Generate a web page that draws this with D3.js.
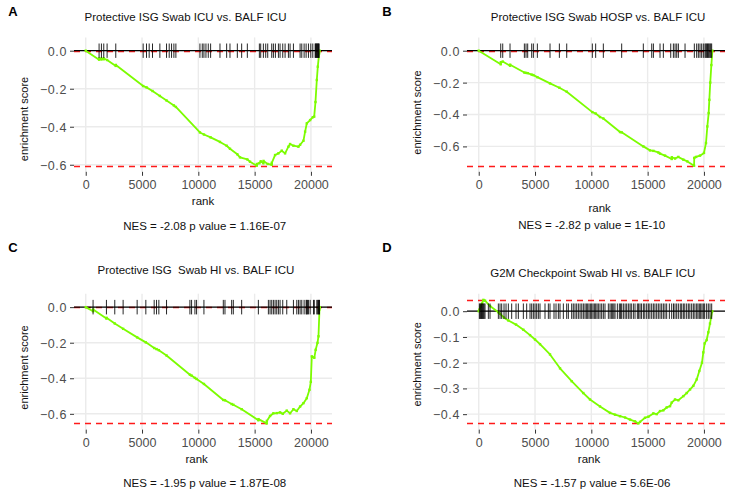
<!DOCTYPE html>
<html><head><meta charset="utf-8">
<script src="https://cdn.jsdelivr.net/npm/d3@7"></script>
<style>body{margin:0;background:#fff}svg text{font-family:"Liberation Sans",Arial,Helvetica,sans-serif;white-space:pre}</style>
</head><body>
<svg id="chart" width="729" height="492"></svg>
<script>
// ---------------- data ----------------
const xTicks = [0, 5000, 10000, 15000, 20000];
const nGenes = 20830;
const letters = ["A", "B", "C", "D"];
const titles = [
  "Protective ISG Swab ICU vs. BALF ICU",
  "Protective ISG Swab HOSP vs. BALF ICU",
  "Protective ISG  Swab HI vs. BALF ICU",
  "G2M Checkpoint Swab HI vs. BALF ICU"
];
const nesLabels = [
  "NES = -2.08 p value = 1.16E-07",
  "NES = -2.82 p value = 1E-10",
  "NES = -1.95 p value = 1.87E-08",
  "NES = -1.57 p value = 5.6E-06"
];
const yTicksA = [0, -0.2, -0.4, -0.6];
const yTicksB = [0, -0.2, -0.4, -0.6];
const yTicksC = [0, -0.2, -0.4, -0.6];
const yTicksD = [0, -0.1, -0.2, -0.3, -0.4];

const curveA = [[0,0],[1186,-0.047],[1194,-0.041],[1394,-0.046],[1400,-0.041],[1601,-0.045],[1610,-0.041],[1898,-0.049],[2669,-0.080],[2675,-0.075],
  [5101,-0.186],[5400,-0.193],[5931,-0.212],[6584,-0.238],[7177,-0.262],[7829,-0.288],[8007,-0.296],[10142,-0.430],[10500,-0.441],[11091,-0.456],
  [11922,-0.480],[12515,-0.500],[12811,-0.516],[13464,-0.545],[13700,-0.561],[14353,-0.572],[14591,-0.584],[15190,-0.605],[15200,-0.596],[15421,-0.592],
  [15540,-0.582],[15777,-0.592],[15790,-0.580],[16163,-0.596],[16518,-0.600],[16525,-0.590],[16815,-0.549],[17112,-0.540],[17411,-0.526],[17705,-0.540],
  [18001,-0.505],[18149,-0.491],[18446,-0.500],[18888,-0.505],[19039,-0.495],[19333,-0.474],[19484,-0.426],[19635,-0.382],[19929,-0.365],[20166,-0.350],
  [20290,-0.347],[20404,-0.270],[20522,-0.154],[20611,-0.084],[20730,-0.014],[20770,0]];
const hitsA = [1186,1394,1601,1898,2669,5101,5398,5635,5931,6584,7177,7414,7622,7829,8007,10142,10350,10498,10676,10884,11091,11922,12515,12811,13464,13849,14353,
  15421,15540,15777,15985,16163,16518,16667,16845,17112,17260,17497,17705,18001,18149,18446,19039,19187,19395,19573,19781,19988,20166,20374,20420,20463,
  20510,20552,20600,20641,20680,20730];

const curveB = [[0,0],[1954,-0.085],[1962,-0.072],[2131,-0.068],[2780,-0.094],[2790,-0.088],[4053,-0.137],[4201,-0.139],[4349,-0.141],[4704,-0.150],
  [4852,-0.153],[5207,-0.166],[6332,-0.205],[7161,-0.232],[7815,-0.257],[10089,-0.385],[10385,-0.394],[10773,-0.416],[11066,-0.425],[12549,-0.510],
  [12696,-0.512],[14618,-0.600],[15213,-0.625],[15512,-0.628],[15950,-0.638],[16101,-0.645],[16546,-0.658],[17141,-0.679],[17150,-0.668],[17436,-0.676],
  [17728,-0.666],[18172,-0.683],[18527,-0.694],[19125,-0.721],[19140,-0.672],[19300,-0.666],[19651,-0.658],[20006,-0.641],[20184,-0.579],[20302,-0.475],
  [20421,-0.391],[20481,-0.308],[20560,-0.200],[20660,-0.090],[20750,0]];
const hitsB = [1954,2131,2780,4053,4201,4349,4704,4852,5207,6332,7161,7815,10089,10385,11066,12696,14618,15364,15512,16101,16397,17052,17288,17436,17584,
  17732,18323,19148,19355,19503,19651,19799,19947,20095,20170,20243,20320,20391,20460,20539,20610,20687];

const curveC = [[0,0],[652,-0.023],[660,-0.013],[1838,-0.064],[1846,-0.060],[2580,-0.092],[3321,-0.122],[4567,-0.170],[5338,-0.198],[6079,-0.230],
  [6287,-0.236],[6494,-0.242],[7177,-0.272],[9253,-0.380],[9401,-0.385],[9698,-0.398],[9846,-0.404],[10498,-0.432],[12218,-0.522],[12367,-0.524],
  [12960,-0.545],[13108,-0.549],[13849,-0.574],[15332,-0.636],[15340,-0.630],[16074,-0.654],[16085,-0.640],[16370,-0.612],[16667,-0.597],[16963,-0.596],
  [17260,-0.592],[17497,-0.600],[17853,-0.582],[18149,-0.597],[18446,-0.574],[18743,-0.584],[19039,-0.559],[19336,-0.540],[19632,-0.512],[19870,-0.465],
  [19990,-0.420],[20077,-0.277],[20300,-0.285],[20420,-0.240],[20582,-0.201],[20671,-0.164],[20760,-0.013],[20790,0]];
const hitsC = [652,1838,2580,3321,4567,5338,6079,6287,6494,7177,9253,9401,9698,9846,10498,12218,12367,12960,13108,13849,15332,16222,16370,16518,16667,
  16815,16963,17112,17260,17497,17853,18446,18743,18891,19039,19187,19395,19573,19620,19692,19781,19929,20226,20300,20523,20600,20671,20720,20760];

const curveD = [[0,0],[56,0.006],[175,0.018],[293,0.030],[414,0.044],[559,0.041],[1003,0.020],[1743,-0.004],[1891,-0.010],[2246,-0.025],[2631,-0.036],
  [3312,-0.052],[3963,-0.072],[4555,-0.093],[4999,-0.110],[5443,-0.128],[6331,-0.168],[7220,-0.222],[8255,-0.272],[9291,-0.318],[9884,-0.343],
  [10771,-0.370],[11660,-0.395],[12104,-0.402],[12549,-0.408],[12996,-0.413],[13437,-0.421],[13880,-0.428],[14174,-0.436],[14324,-0.430],[14769,-0.414],
  [15064,-0.410],[15506,-0.397],[15804,-0.400],[16101,-0.388],[16396,-0.385],[16692,-0.374],[16990,-0.369],[17136,-0.355],[17434,-0.343],[17728,-0.346],
  [18175,-0.330],[18467,-0.318],[18768,-0.304],[19059,-0.290],[19360,-0.265],[19592,-0.232],[19828,-0.200],[19947,-0.160],[20065,-0.125],[20242,-0.112],
  [20390,-0.082],[20538,-0.048],[20740,0]];
const hitsD = [56,120,175,240,293,350,411,480,559,855,1003,1743,1891,2039,2246,2424,2631,2927,3312,3519,3963,4259,4555,4703,4851,4999,5147,5295,5443,
  5887,6183,6331,6686,6864,7071,7219,7515,7811,7959,8255,8400,8551,8699,8847,9000,9150,9291,9439,9558,9676,9794,9913,10031,10150,10268,10386,10505,
  10623,10771,10919,11067,11215,11511,11659,11778,11896,12000,12104,12311,12489,12600,12696,12844,13000,13140,13288,13436,13550,13732,13880,14088,
  14200,14324,14450,14620,14750,14916,15064,15200,15360,15508,15650,15804,15950,16100,16248,16396,16544,16692,16929,17136,17300,17432,17580,17728,
  17900,18024,18171,18300,18467,18615,18750,18911,19059,19200,19355,19470,19592,19710,19828,19947,20065,20242,20390,20538,20690];

const panels = [
  {curve: curveA, hits: hitsA, yTicks: yTicksA},
  {curve: curveB, hits: hitsB, yTicks: yTicksB},
  {curve: curveC, hits: hitsC, yTicks: yTicksC},
  {curve: curveD, hits: hitsD, yTicks: yTicksD}
];

// ---------------- layout ----------------
const layout = [
  {left:74, right:332, top:37.4, bottom:171.8, letterX:8.3, letterY:15.5, titleX:185.5, titleY:21, yTitleX:27.5, yTitleY:119, rankX:203, rankY:205, nesX:204.7, nesY:229.5},
  {left:467, right:725, top:37.4, bottom:171.8, letterX:382.3, letterY:15.5, titleX:598, titleY:21, yTitleX:421.3, yTitleY:112.5, rankX:599.7, rankY:212, nesX:591.7, nesY:228.5},
  {left:74, right:332, top:293.7, bottom:429.6, letterX:8.3, letterY:251.5, titleX:196, titleY:274, yTitleX:27.5, yTitleY:367.5, rankX:196.7, rankY:463, nesX:204.7, nesY:487},
  {left:467, right:725, top:293.7, bottom:429.6, letterX:382.3, letterY:252, titleX:592.8, titleY:277, yTitleX:421, yTitleY:364.3, rankX:589, rankY:463, nesX:592, nesY:487}
];

const svg = d3.select("#chart");
svg.append("rect").attr("width", 729).attr("height", 492).attr("fill", "#fff");
const green = "#7cfc00";

panels.forEach((p, i) => {
  const L = layout[i];
  const g = svg.append("g");
  const esVals = p.curve.map(d => d[1]);
  const top = d3.max(esVals), bot = d3.min(esVals);
  const half = (top - bot) / 8 / 2;
  const lo = Math.min(bot, -half), hi = Math.max(top, half);
  const yPad = (hi - lo) * 0.05;
  const y = d3.scaleLinear().domain([lo - yPad, hi + yPad]).range([L.bottom, L.top]);
  const x = d3.scaleLinear().domain([-nGenes * 0.05, nGenes * 1.05]).range([L.left, L.right]);

  // grid
  g.selectAll(".gx").data(xTicks).join("line")
    .attr("x1", d => x(d)).attr("x2", d => x(d)).attr("y1", L.top).attr("y2", L.bottom)
    .attr("stroke", "#ebebeb").attr("stroke-width", 1.4);
  g.selectAll(".gy").data(p.yTicks).join("line")
    .attr("x1", L.left).attr("x2", L.right).attr("y1", d => y(d)).attr("y2", d => y(d))
    .attr("stroke", "#ebebeb").attr("stroke-width", 1.4);

  // axes
  const xAxis = d3.axisBottom(x).tickValues(xTicks).tickFormat(d3.format("d")).tickSize(4).tickPadding(3);
  const xa = g.append("g").attr("transform", `translate(0,${L.bottom})`).call(xAxis);
  const yAxis = d3.axisLeft(y).tickValues(p.yTicks).tickFormat(d3.format(".1f")).tickSize(4).tickPadding(3);
  const ya = g.append("g").attr("transform", `translate(${L.left},0)`).call(yAxis);
  [xa, ya].forEach(a => {
    a.select(".domain").remove();
    a.selectAll(".tick line").attr("stroke", "#333").attr("stroke-width", 1);
    a.selectAll(".tick text").attr("fill", "#4d4d4d").attr("font-size", 12.5);
  });
  xa.selectAll(".tick text").attr("dy", null).attr("y", 17.5);
  ya.selectAll(".tick text").attr("dy", "0.36em").attr("letter-spacing", 0.6);

  // red dashed lines
  [top, bot].forEach(v => {
    g.append("line").attr("x1", L.left).attr("x2", L.right).attr("y1", Math.round(y(v)) + 0.5).attr("y2", Math.round(y(v)) + 0.5)
      .attr("stroke", "#ff1a1a").attr("stroke-width", 1.6).attr("stroke-dasharray", "6,5");
  });
  // zero line
  g.append("line").attr("x1", L.left).attr("x2", L.right).attr("y1", y(0)).attr("y2", y(0))
    .attr("stroke", "#000").attr("stroke-width", 1.3);

  // enrichment curve
  const line = d3.line().x(d => x(d[0])).y(d => y(d[1]));
  g.append("path").datum(p.curve).attr("d", line)
    .attr("fill", "none").attr("stroke", green).attr("stroke-width", 1.8).attr("stroke-linejoin", "round");
  g.selectAll(".pt").data(p.curve).join("rect")
    .attr("x", d => x(d[0]) - 1.2).attr("y", d => y(d[1]) - 1.2).attr("width", 2.4).attr("height", 2.4)
    .attr("fill", green);

  // rug of hits
  g.selectAll(".hit").data(p.hits).join("line")
    .attr("x1", d => x(d)).attr("x2", d => x(d)).attr("y1", y(-half)).attr("y2", y(half))
    .attr("stroke", "#000").attr("stroke-width", 1).attr("stroke-opacity", 0.85);

  // texts
  svg.append("text").attr("x", L.letterX).attr("y", L.letterY).attr("font-size", 13).attr("font-weight", "bold").text(letters[i]);
  svg.append("text").attr("x", L.titleX).attr("y", L.titleY).attr("text-anchor", "middle").attr("font-size", 11.5).attr("fill", "#111")
    .attr("xml:space", "preserve").text(titles[i]);
  svg.append("text").attr("transform", `translate(${L.yTitleX},${L.yTitleY}) rotate(-90)`).attr("text-anchor", "middle").attr("font-size", 11).attr("fill", "#111").text("enrichment score");
  svg.append("text").attr("x", L.rankX).attr("y", L.rankY).attr("text-anchor", "middle").attr("font-size", 11.5).attr("fill", "#111").text("rank");
  svg.append("text").attr("x", L.nesX).attr("y", L.nesY).attr("text-anchor", "middle").attr("font-size", 11.5).attr("fill", "#111").text(nesLabels[i]);
});
</script>
</body></html>
